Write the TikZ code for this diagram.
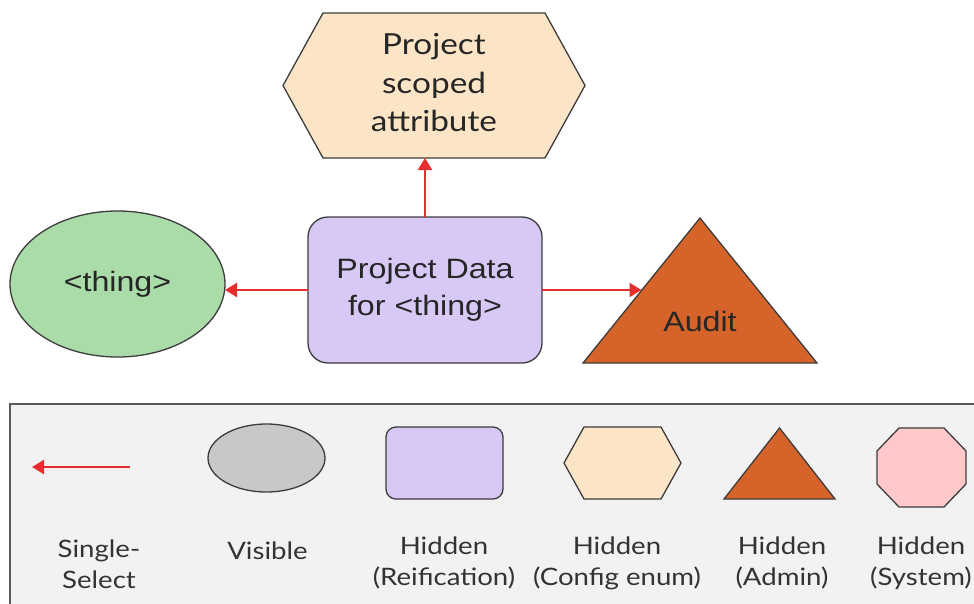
\documentclass[tikz,border=0pt]{standalone}
\usepackage{fontspec}
\setmainfont{Lato}
\newfontfamily\arialf{Liberation Sans}
\usetikzlibrary{arrows.meta,calc,backgrounds,shapes.geometric}
\definecolor{peach}{HTML}{FCE5C6}
\definecolor{lavender}{HTML}{D8C8F6}
\definecolor{mint}{HTML}{AADCA9}
\definecolor{rust}{HTML}{D6642A}
\definecolor{grayfill}{HTML}{C8C8C8}
\definecolor{pinkfill}{HTML}{FFC9C9}
\definecolor{legbg}{HTML}{F2F2F2}
\definecolor{frame}{HTML}{5A5A5A}
\definecolor{edge}{HTML}{3C3C3C}
\definecolor{arrred}{HTML}{E62E2E}
\newcommand{\sx}[1]{\scalebox{1.15}[1]{#1}}
\newcommand{\lines}[1]{\sx{\begin{tabular}{@{}c@{}}#1\end{tabular}}}
\begin{document}
\begin{tikzpicture}[x=1pt,y=-1pt,
  shp/.style={draw=edge, line width=1.3pt},
  area/.style 2 args={inner sep=0pt, outer sep=0pt, minimum width=#1, minimum height=#2},
  conn/.style={draw=arrred, line width=2.4pt, -{Triangle[length=12pt,width=14pt]}},
  bigtxt/.style={font=\fontsize{29}{38.5}\selectfont, text=black!85},
  arialtxt/.style={font=\arialf\fontsize{28}{37}\selectfont, text=black!85},
  legtxt/.style={font=\fontsize{24}{31}\selectfont, text=black!80, inner sep=0pt}]
\useasboundingbox (0,0) rectangle (974,603);
\clip (0,0) rectangle (974,603);

% ---- main diagram ----
\node[area={302pt}{145pt}, bigtxt] (hex) at (434,85.5) {\lines{Project\\scoped\\attribute}};
\node[area={234pt}{146pt}, shp, fill=lavender, rounded corners=20pt, arialtxt] (pd) at (425,290) {\lines{Project Data\\for <thing>}};
\node[area={215pt}{146pt}, shp, fill=mint, ellipse, arialtxt] (thing) at (117.5,284) {\sx{<thing>}};
\node[area={234pt}{145pt},
  label={[arialtxt, yshift=-31pt]center:\sx{Audit}}] (tri) at (700,290.5) {};

% ---- legend ----
\node[area={980pt}{220pt}, anchor=north west] (legend) at (10,404) {};
\coordinate (la1) at (130,467);
\coordinate (la2) at (32,467);
\node[area={117pt}{68pt}, shp, fill=grayfill, ellipse] (vis) at (266.5,458) {};
\node[area={117pt}{72pt}, shp, fill=lavender, rounded corners=10pt] (rei) at (444.5,463) {};
\node[area={117pt}{72pt}] (cfg) at (622.5,463) {};
\node[area={111pt}{71pt}] (adm) at (779.5,463.5) {};
\node[area={89pt}{79pt}] (sys) at (921.5,467.5) {};

\node[legtxt] (l1) at (99,566.5) {\lines{Single-\\Select}};
\node[legtxt] (l2) at (267.5,551) {\sx{Visible}};
\node[legtxt] (l3) at (444,563.5) {\lines{Hidden\\(Reification)}};
\node[legtxt] (l4) at (617,563.5) {\lines{Hidden\\(Config enum)}};
\node[legtxt] (l5) at (782,563.5) {\lines{Hidden\\(Admin)}};
\node[legtxt] (l6) at (921,563.5) {\lines{Hidden\\(System)}};

\begin{scope}[on background layer]
  \draw[draw=frame, line width=2pt, fill=legbg] (legend.north west) rectangle (legend.south east);
  \draw[shp, fill=peach] (hex.west) -- ([xshift=40pt]hex.north west) -- ([xshift=-40pt]hex.north east)
     -- (hex.east) -- ([xshift=-40pt]hex.south east) -- ([xshift=40pt]hex.south west) -- cycle;
  \draw[shp, fill=rust] (tri.north) -- (tri.south east) -- (tri.south west) -- cycle;
  \draw[shp, fill=peach] (cfg.west) -- ([xshift=20pt]cfg.north west) -- ([xshift=-20pt]cfg.north east)
     -- (cfg.east) -- ([xshift=-20pt]cfg.south east) -- ([xshift=20pt]cfg.south west) -- cycle;
  \draw[shp, fill=rust] (adm.north) -- (adm.south east) -- (adm.south west) -- cycle;
  \draw[shp, fill=pinkfill] ([xshift=22pt]sys.north west) -- ([xshift=-22pt]sys.north east)
     -- ([yshift=-23pt]sys.north east) -- ([yshift=23pt]sys.south east)
     -- ([xshift=-22pt]sys.south east) -- ([xshift=22pt]sys.south west)
     -- ([yshift=23pt]sys.south west) -- ([yshift=-23pt]sys.north west) -- cycle;
\end{scope}

% ---- connectors ----
\coordinate (triside) at ($(tri.north)!0.5!(tri.south west)$);
\draw[conn] (pd.north) -- (pd.north |- hex.south);
\draw[conn] (pd.west) -- (pd.west -| thing.east);
\draw[conn] (pd.east) -- (pd.east -| triside);
\draw[conn] (la1) -- (la2);
\end{tikzpicture}
\end{document}
